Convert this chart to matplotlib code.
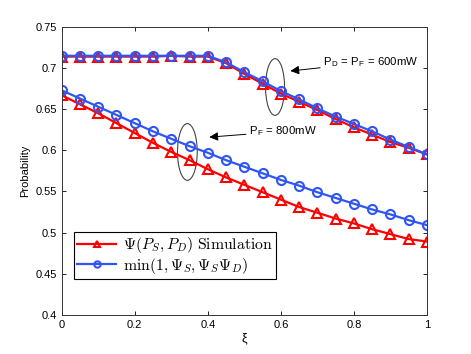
import matplotlib
matplotlib.use('Agg')
import matplotlib.pyplot as plt
from matplotlib.patches import Ellipse

plt.rcParams['font.family'] = ['Liberation Sans', 'DejaVu Sans']
plt.rcParams['mathtext.fontset'] = 'cm'

xi = [0.0, 0.05, 0.1, 0.15, 0.2, 0.25, 0.3, 0.35, 0.4, 0.45, 0.5,
      0.55, 0.6, 0.65, 0.7, 0.75, 0.8, 0.85, 0.9, 0.95, 1.0]

# P_D = P_F = 600mW
sim_600 = [0.714, 0.714, 0.714, 0.714, 0.714, 0.714, 0.715, 0.714, 0.714, 0.706, 0.693,
           0.681, 0.669, 0.659, 0.649, 0.638, 0.628, 0.619, 0.610, 0.603, 0.595]
bound_600 = [0.715, 0.715, 0.715, 0.715, 0.715, 0.715, 0.715, 0.715, 0.715, 0.707, 0.695,
             0.684, 0.672, 0.662, 0.651, 0.641, 0.632, 0.623, 0.613, 0.604, 0.595]

# P_F = 800mW
sim_800 = [0.667, 0.656, 0.645, 0.633, 0.621, 0.609, 0.598, 0.588, 0.577, 0.567, 0.558,
           0.549, 0.540, 0.531, 0.524, 0.517, 0.511, 0.504, 0.498, 0.492, 0.489]
bound_800 = [0.673, 0.663, 0.653, 0.643, 0.633, 0.623, 0.614, 0.605, 0.597, 0.588, 0.580,
             0.572, 0.564, 0.557, 0.549, 0.542, 0.535, 0.528, 0.522, 0.515, 0.509]

red = '#ff0000'
blue = '#2f55f5'

fig = plt.figure(figsize=(4.71, 3.54), dpi=100)
ax = fig.add_axes([0.131, 0.111, 0.7756, 0.8127])

sim_style = dict(color=red, marker='^', markersize=7, markerfacecolor='none',
                 markeredgewidth=1.5, linewidth=1.6)
bnd_style = dict(color=blue, marker='o', markersize=6.5, markerfacecolor='none',
                 markeredgewidth=1.5, linewidth=1.6)

ax.plot(xi, sim_600, label=r'$\Psi(P_S,P_D)\ \mathrm{Simulation}$', **sim_style)
ax.plot(xi, bound_600, label=r'$\min(1,\Psi_S,\Psi_S\Psi_D)$', **bnd_style)
ax.plot(xi, sim_800, **sim_style)
ax.plot(xi, bound_800, **bnd_style)

# ellipses + arrows
ax.add_patch(Ellipse((0.584, 0.677), 0.052, 0.069, fill=False, edgecolor='#444444', linewidth=0.8))
ax.add_patch(Ellipse((0.344, 0.598), 0.054, 0.069, fill=False, edgecolor='#444444', linewidth=0.8))
arrow = dict(arrowstyle='-|>', color='black', lw=0.7, mutation_scale=13, shrinkA=0, shrinkB=0)
ax.annotate(r'P$_\mathregular{D}$ = P$_\mathregular{F}$ = 600mW', xy=(0.626, 0.6965), xytext=(0.715, 0.707),
            fontsize=8.2, va='center', arrowprops=arrow)
ax.annotate(r'P$_\mathregular{F}$ = 800mW', xy=(0.404, 0.616), xytext=(0.512, 0.623),
            fontsize=8.2, va='center', arrowprops=arrow)

ax.set_xlim(0, 1)
ax.set_ylim(0.4, 0.75)
ax.set_xticks([0, 0.2, 0.4, 0.6, 0.8, 1])
ax.set_xticklabels(['0', '0.2', '0.4', '0.6', '0.8', '1'])
ax.set_yticks([0.4, 0.45, 0.5, 0.55, 0.6, 0.65, 0.7, 0.75])
ax.set_yticklabels(['0.4', '0.45', '0.5', '0.55', '0.6', '0.65', '0.7', '0.75'])
ax.tick_params(direction='in', labelsize=8, top=True, right=True, length=3, width=0.6)
for s in ax.spines.values():
    s.set_linewidth(0.7)
    s.set_color('#333333')

ax.set_xlabel(r'ξ', fontsize=9, labelpad=2)
ax.set_ylabel('Probability', fontsize=8, labelpad=4)

leg = ax.legend(loc='lower left', bbox_to_anchor=(0.034, 0.124), borderaxespad=0, fontsize=11.3,
                fancybox=False, edgecolor='black', framealpha=1, handlelength=2.5,
                borderpad=0.2, labelspacing=0.05, handletextpad=0.4, markerscale=0.7)
leg.get_frame().set_linewidth(0.8)

fig.savefig('out.png', dpi=100)
